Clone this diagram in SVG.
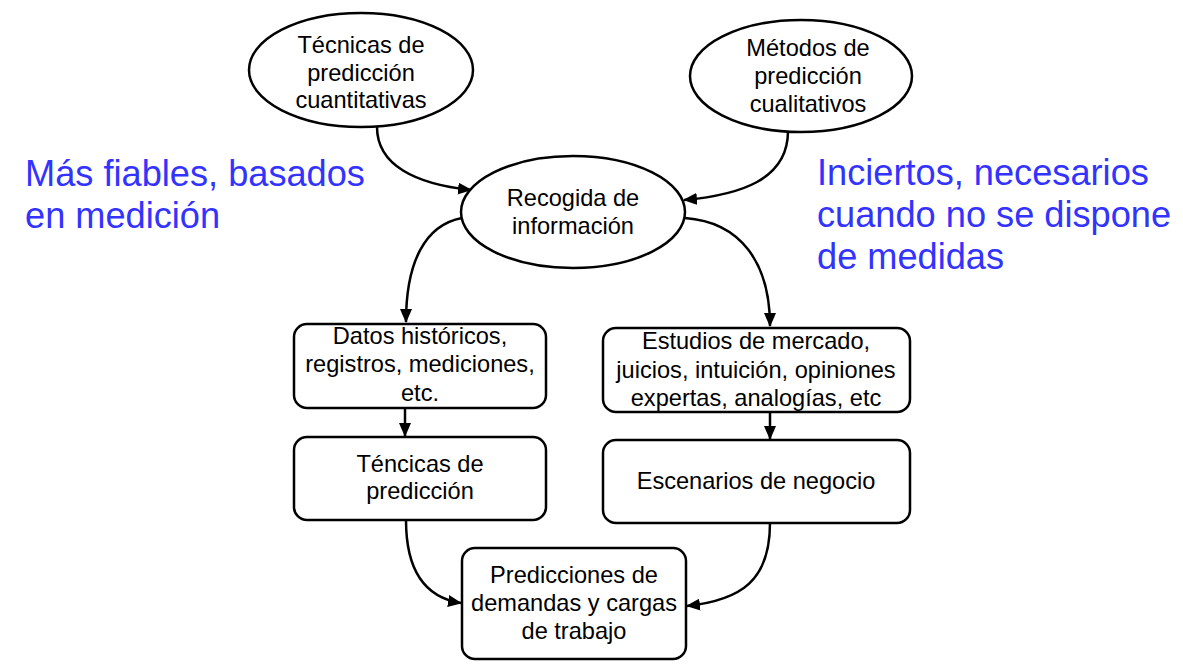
<svg xmlns="http://www.w3.org/2000/svg" width="1183" height="670" viewBox="0 0 1183 670">
<style>
.n{fill:#fff;stroke:#000;stroke-width:2.5}
.t{font-family:"Liberation Sans",Arial,sans-serif;font-size:23.6px;fill:#000;text-anchor:middle}
.b{font-family:"Liberation Sans",Arial,sans-serif;font-size:36.2px;fill:#3333ff}
.c{fill:none;stroke:#000;stroke-width:2.5;marker-end:url(#ah)}
</style>
<defs>
<marker id="ah" markerWidth="14" markerHeight="12" refX="13" refY="6" orient="auto" markerUnits="userSpaceOnUse">
<path d="M0,0 L14,6 L0,12 Z" fill="#000"/>
</marker>
</defs>
<rect width="1183" height="670" fill="#fff"/>
<g id="connectors">
<path class="c" d="M377,127 C377,165 415,184 471,190"/>
<path class="c" d="M788,131 C788,180 740,195 684,200"/>
<path class="c" d="M462,218 C425,225 406,262 406,322"/>
<path class="c" d="M685,218 C740,222 770,262 770,326"/>
<path class="c" d="M405,408 L405,436"/>
<path class="c" d="M770,412 L770,439"/>
<path class="c" d="M406,520 C406,575 428,598 461,603"/>
<path class="c" d="M770,523 C770,580 742,600 687,606"/>
</g>
<g id="n-cuantitativas">
<ellipse class="n" cx="361" cy="70" rx="112" ry="57"/>
<text class="t" x="361" y="53">Técnicas de</text>
<text class="t" x="361" y="81">predicción</text>
<text class="t" x="361" y="108">cuantitativas</text>
</g>
<g id="n-cualitativos">
<ellipse class="n" cx="801" cy="76" rx="111" ry="56"/>
<text class="t" x="808" y="56">Métodos de</text>
<text class="t" x="808" y="84">predicción</text>
<text class="t" x="808" y="112">cualitativos</text>
</g>
<g id="n-recogida">
<ellipse class="n" cx="573" cy="212" rx="112" ry="56"/>
<text class="t" x="573" y="206">Recogida de</text>
<text class="t" x="573" y="234">información</text>
</g>
<g id="n-datos">
<rect class="n" x="294" y="324" width="252" height="84" rx="13"/>
<text class="t" x="420" y="344">Datos históricos,</text>
<text class="t" x="420" y="372">registros, mediciones,</text>
<text class="t" x="420" y="401">etc.</text>
</g>
<g id="n-tecnicas">
<rect class="n" x="294" y="437" width="252" height="83" rx="13"/>
<text class="t" x="420" y="472">Téncicas de</text>
<text class="t" x="420" y="499">predicción</text>
</g>
<g id="n-estudios">
<rect class="n" x="603" y="328" width="307" height="84" rx="13"/>
<text class="t" x="756" y="349">Estudios de mercado,</text>
<text class="t" x="756" y="378">juicios, intuición, opiniones</text>
<text class="t" x="756" y="406">expertas, analogías, etc</text>
</g>
<g id="n-escenarios">
<rect class="n" x="603" y="440" width="307" height="83" rx="13"/>
<text class="t" x="756" y="489">Escenarios de negocio</text>
</g>
<g id="n-predicciones">
<rect class="n" x="462" y="548" width="224" height="111" rx="13"/>
<text class="t" x="574" y="583">Predicciones de</text>
<text class="t" x="574" y="611">demandas y cargas</text>
<text class="t" x="574" y="639">de trabajo</text>
</g>
<g id="notes">
<text class="b" x="25" y="186">Más fiables, basados</text>
<text class="b" x="25" y="228">en medición</text>
<text class="b" x="817" y="185">Inciertos, necesarios</text>
<text class="b" x="817" y="227">cuando no se dispone</text>
<text class="b" x="817" y="269">de medidas</text>
</g>
</svg>
